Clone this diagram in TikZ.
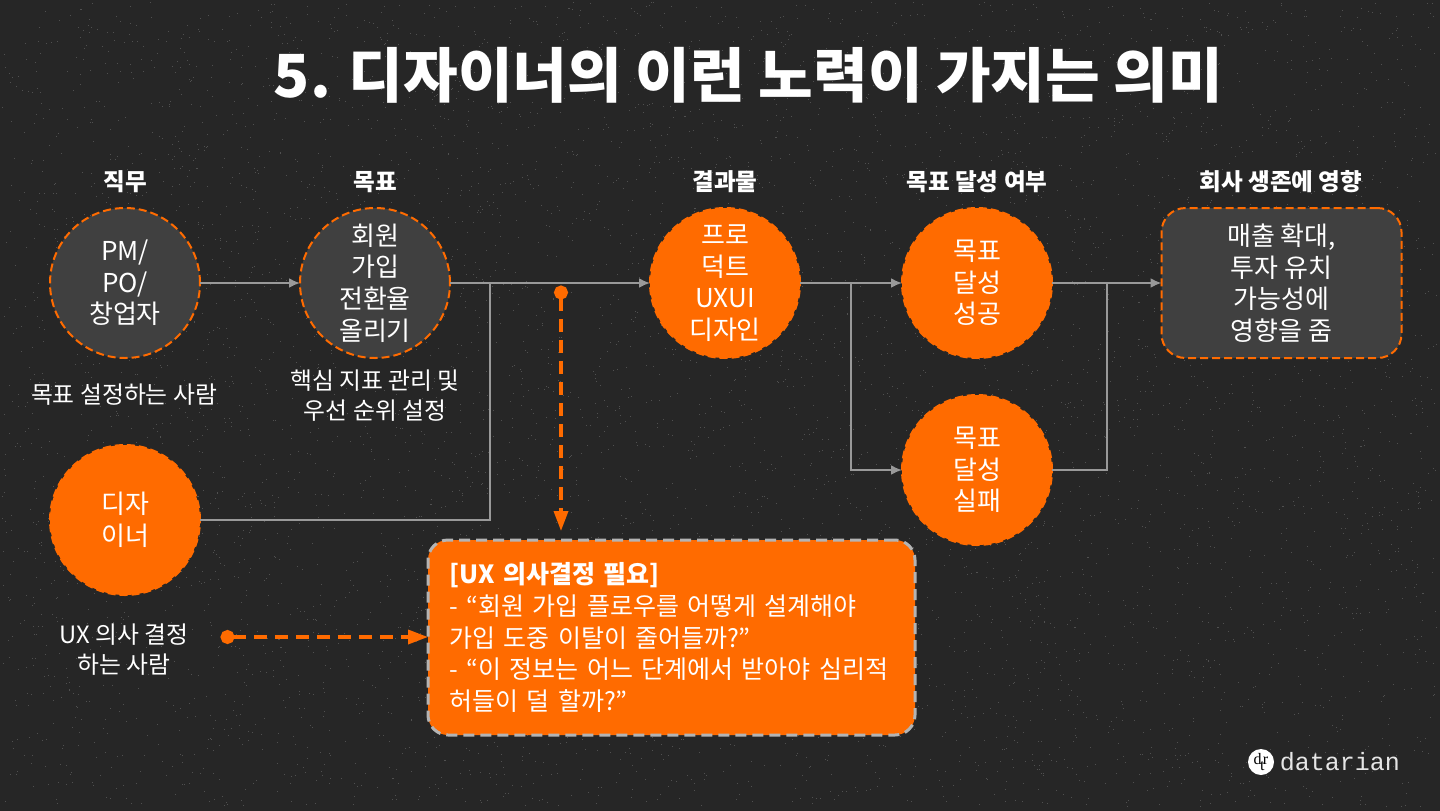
\documentclass[tikz,border=0pt]{standalone}
\usepackage{fontspec}
\setmainfont{Noto Sans CJK KR}
\newfontfamily\logofont{Liberation Mono}
\newfontfamily\markfont{Liberation Serif}
\usetikzlibrary{arrows.meta,positioning}
\definecolor{slidebg}{HTML}{262626}
\definecolor{speck}{HTML}{505050}
\definecolor{dataorange}{HTML}{FF6B00}
\definecolor{rolegrey}{HTML}{404040}
\definecolor{linegrey}{HTML}{999999}
\definecolor{edgegrey}{HTML}{B4B4B4}
\tikzset{
  body/.style      = {font=\fontsize{13}{15.8}\selectfont},
  rolecirc/.style  = {circle, draw=dataorange, line width=1pt, dash pattern=on 4pt off 2pt, outer sep=0pt,
                      fill=rolegrey, minimum size=75pt, inner sep=0pt, align=center, text=white, body},
  hotcirc/.style   = {rolecirc, fill=dataorange},
  heading/.style   = {font=\fontsize{11.8}{15}\selectfont\bfseries, text=white, inner sep=0pt},
  caption/.style   = {font=\fontsize{11.9}{15}\selectfont, text=white, align=center, inner sep=0pt},
  sig/.style       = {draw=linegrey, line width=1pt, -{Latex[length=5.5pt,width=5pt]}},
  wire/.style      = {draw=linegrey, line width=1pt},
  flag/.style      = {draw=dataorange, line width=1.75pt, dash pattern=on 6.5pt off 4pt,
                      {Circle[length=7pt,width=7pt]}-{Triangle[length=10pt,width=7pt,fill=dataorange]}},
}
\begin{document}
\begin{tikzpicture}[x=0.5pt, y=-0.5pt]
  \useasboundingbox (0,0) rectangle (1440,810);
  \fill[slidebg] (-2,-2) rectangle (1442,812);
  % grain of the slide
  \pgfmathsetseed{7}
  \foreach \i in {1,...,6000}
    \fill[speck] (2+1434*rnd,2+804*rnd) rectangle ++(1,1);
  \node[font=\fontsize{29.7}{36}\selectfont\bfseries, text=white, inner sep=0pt] (title) at (748.5,75) {5. 디자이너의 이런 노력이 가지는 의미};
  % top row
  \node[rolecirc] (pm) at (125,283) {PM/\\PO/\\창업자};
  \node[rolecirc, right=50pt of pm] (goal) {회원\\가입\\전환율\\올리기};
  \node[hotcirc, right=100pt of goal] (output) {프로\\덕트\\UXUI\\디자인};
  \node[hotcirc, right=51pt of output] (success) {목표\\달성\\성공};
  \node[hotcirc, below=18.5pt of success] (fail) {목표\\달성\\실패};
  \node[rolecirc, rectangle, rounded corners=12pt, minimum width=120pt, minimum height=75pt] (effect) at (1281.5,283) {매출 확대,\\투자 유치\\가능성에\\영향을 줌};
  \node[hotcirc] (designer) at (125,520) {디자\\이너};
  % headings
  \node[heading] (headrole) at (125,182) {직무};
  \node[heading] (headgoal) at (375,182) {목표};
  \node[heading] (headoutput) at (725,182) {결과물};
  \node[heading] (headresult) at (977,182) {목표 달성 여부};
  \node[heading] (headeffect) at (1281,182) {회사 생존에 영향};
  % captions
  \node[caption] (capdecide) at (124,395) {목표 설정하는 사람};
  \node[caption] (capgoal) at (375,395.5) {핵심 지표 관리 및\\우선 순위 설정};
  \node[caption] (capdesigner) at (124,649.5) {UX 의사 결정\\하는 사람};
  % decision box
  \node[draw=edgegrey, line width=1.5pt, dash pattern=on 5.5pt off 3pt, fill=dataorange, rounded corners=10pt, outer sep=0pt,
        minimum width=243.5pt, minimum height=97.5pt, text width=222pt, align=left, text=white,
        font=\fontsize{12.5}{15.9}\selectfont] (need) at (671.5,637.5)
    {{\bfseries [UX 의사결정 필요]}\\- “회원 가입 플로우를 어떻게 설계해야\\가입 도중 이탈이 줄어들까?”\\- “이 정보는 어느 단계에서 받아야 심리적\\허들이 덜 할까?”};
  % connectors
  \coordinate (joinin) at (490,283);
  \coordinate (joinout) at (851,283);
  \coordinate (joinend) at (1107,283);
  \coordinate (flagtop) at (561,285.5);
  \coordinate (flagend) at (561,531);
  \coordinate (flagleft) at (220.5,637);
  \draw[sig] (pm) -- (goal);
  \draw[sig] (goal) -- (output);
  \draw[wire] (designer) -| (joinin);
  \draw[sig] (output) -- (success);
  \draw[sig] (joinout) |- (fail);
  \draw[sig] (success) -- (effect);
  \draw[wire] (fail) -| (joinend);
  \draw[flag] (flagtop) -- (flagend);
  \draw[flag] (flagleft) -- (need.west |- flagleft);
  % logo
  \node[circle, fill=white, minimum size=13pt, inner sep=0pt, text=black, font=\fontsize{8}{9}\selectfont\markfont] (logomark) at (1261,762) {d\kern-0.8pt\raisebox{-3pt}{t}\kern-0.8pt r};
  \node[right=2.5pt of logomark, inner sep=0pt, text=white!90!black, font=\fontsize{12.5}{15}\selectfont\logofont] (logotext) {datarian};
\end{tikzpicture}
\end{document}
